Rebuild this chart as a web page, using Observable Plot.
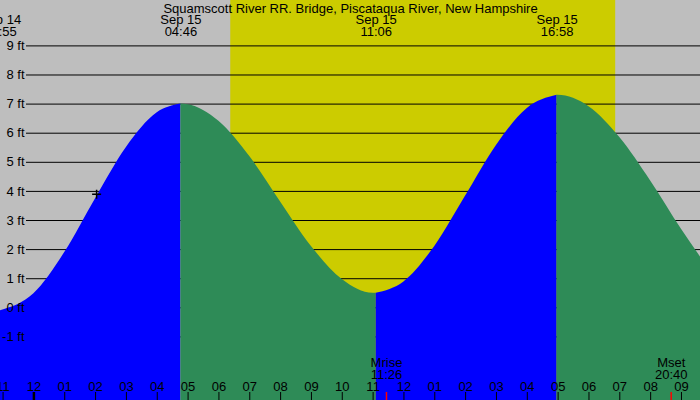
<!DOCTYPE html>
<html>
<head>
<meta charset="utf-8">
<script src="https://cdn.jsdelivr.net/npm/d3@7"></script>
<script src="https://cdn.jsdelivr.net/npm/@observablehq/plot@0.6"></script>
<style>
  html, body { margin: 0; padding: 0; background: #bebebe; }
  #chart { width: 700px; height: 400px; overflow: hidden; }
</style>
</head>
<body>
<div id="chart"></div>
<script>
// ---- data ----
const title = "Squamscott River RR. Bridge, Piscataqua River, New Hampshire";
const monthName = "Sep";

// tide height readings (day hh:mm) and heights in ft
const readingTimes = ["14 22:55","15 00:00","15 01:00","15 02:00","15 03:00","15 04:00","15 04:46",
  "15 05:00","15 06:00","15 07:00","15 08:00","15 09:00","15 10:00","15 11:00","15 11:06",
  "15 12:00","15 13:00","15 14:00","15 15:00","15 16:00","15 16:58",
  "15 17:00","15 18:00","15 19:00","15 20:00","15 21:00","15 21:38"];
const readingHeights = [-0.1, 0.48, 1.90, 3.75, 5.51, 6.70, 7.0,
  6.98, 6.41, 5.20, 3.64, 2.11, 0.97, 0.50, 0.5,
  0.89, 2.11, 3.84, 5.58, 6.85, 7.3,
  7.30, 6.91, 5.85, 4.36, 2.70, 1.72];

// high / low tide extremes
const extremeTimes = ["14 22:55","15 04:46","15 11:06","15 16:58"];
const extremeKinds = ["low","high","low","high"];

// daylight
const sunriseTime = "15 06:23";
const sunsetTime = "15 18:52";

// moon events
const moonNames = ["Mrise","Mset"];
const moonTimes = ["15 11:26","15 20:40"];

// current-time marker
const markerTime = "15 02:02";
const markerHeight = 3.9;

// axes
const ftTicks = [9, 8, 7, 6, 5, 4, 3, 2, 1, 0, -1];
const hourTickTimes = ["14 23:00","15 00:00","15 01:00","15 02:00","15 03:00","15 04:00","15 05:00",
  "15 06:00","15 07:00","15 08:00","15 09:00","15 10:00","15 11:00","15 12:00","15 13:00",
  "15 14:00","15 15:00","15 16:00","15 17:00","15 18:00","15 19:00","15 20:00","15 21:00"];
const hourTickLabels = ["11","12","01","02","03","04","05","06","07","08","09","10","11",
  "12","01","02","03","04","05","06","07","08","09"];

const xDomain = ["14 22:55", "15 21:37"];
const yDomain = [-3.185, 10.56];

// ---- helpers ----
function hours(s) {               // hours since midnight, Sep 15
  const [day, hm] = s.split(" ");
  const [h, m] = hm.split(":").map(Number);
  return (Number(day) - 15) * 24 + h + m / 60;
}
const hm = s => s.split(" ")[1];
const day = s => s.split(" ")[0];

const readings = readingTimes.map((t, i) => ({t: hours(t), h: readingHeights[i]}));
const extremes = extremeTimes.map((t, i) => ({t: hours(t), kind: extremeKinds[i], label: `${monthName} ${day(t)}\n${hm(t)}`}));

const segments = extremes.map((e, i) => {
  const t0 = e.t, t1 = i + 1 < extremes.length ? extremes[i + 1].t : Infinity;
  return {
    fill: e.kind === "low" ? "#0000ff" : "#2e8b57",
    pts: readings.filter(r => r.t >= t0 - 1e-9 && r.t <= t1 + 1e-9)
  };
});

const hourTicks = hourTickTimes.map((t, i) => ({t: hours(t), label: hourTickLabels[i]}));
const moon = moonTimes.map((t, i) => ({t: hours(t), label: `${moonNames[i]}\n${hm(t)}`}));

const chart = Plot.plot({
  width: 700,
  height: 400,
  margin: 0,
  x: {domain: xDomain.map(hours), axis: null},
  y: {domain: yDomain, axis: null},
  style: {background: "#bebebe", fontFamily: "'Liberation Sans', Arial, sans-serif", fontSize: "13px", color: "black"},
  marks: [
    Plot.rect([{a: hours(sunriseTime), b: hours(sunsetTime)}], {x1: "a", x2: "b", y1: yDomain[0], y2: yDomain[1], fill: "#cccc00"}),
    Plot.ruleY(ftTicks, {y: d => d, insetLeft: 26, stroke: "black", strokeWidth: 1}),
    ...segments.map(s => Plot.area(s.pts, {x1: "t", y1: () => yDomain[0], y2: "h", fill: s.fill, curve: "monotone-x", clip: true})),
    Plot.text(ftTicks, {y: d => d, text: d => `${d} ft`, frameAnchor: "left", textAnchor: "end", dx: 24, fill: "black"}),
    Plot.text([title], {text: d => d, frameAnchor: "top", lineAnchor: "top", dy: 3, fill: "black"}),
    Plot.text(extremes, {x: "t", text: "label", frameAnchor: "top", lineAnchor: "top", dy: 14.5, lineHeight: 0.923, fill: "black"}),
    Plot.ruleX(hourTicks.filter(d => d.t !== 0), {x: "t", insetTop: 392, stroke: "black", strokeWidth: 1}),
    Plot.ruleX(hourTicks.filter(d => d.t === 0), {x: "t", insetTop: 392, stroke: "black", strokeWidth: 2.5}),
    Plot.text(hourTicks, {x: "t", text: "label", frameAnchor: "bottom", lineAnchor: "bottom", dy: -10, fill: "black"}),
    Plot.text(moon, {x: "t", text: "label", frameAnchor: "bottom", lineAnchor: "bottom", dy: -22, lineHeight: 0.923, fill: "black"}),
    Plot.ruleX(moon, {x: "t", insetTop: 392, stroke: "red", strokeWidth: 1.5}),
    Plot.dot([{t: hours(markerTime), h: markerHeight}], {x: "t", y: "h", symbol: "plus", r: 3, stroke: "black", fill: "none", strokeWidth: 1.5})
  ]
});
document.getElementById("chart").appendChild(chart);
</script>
</body>
</html>
